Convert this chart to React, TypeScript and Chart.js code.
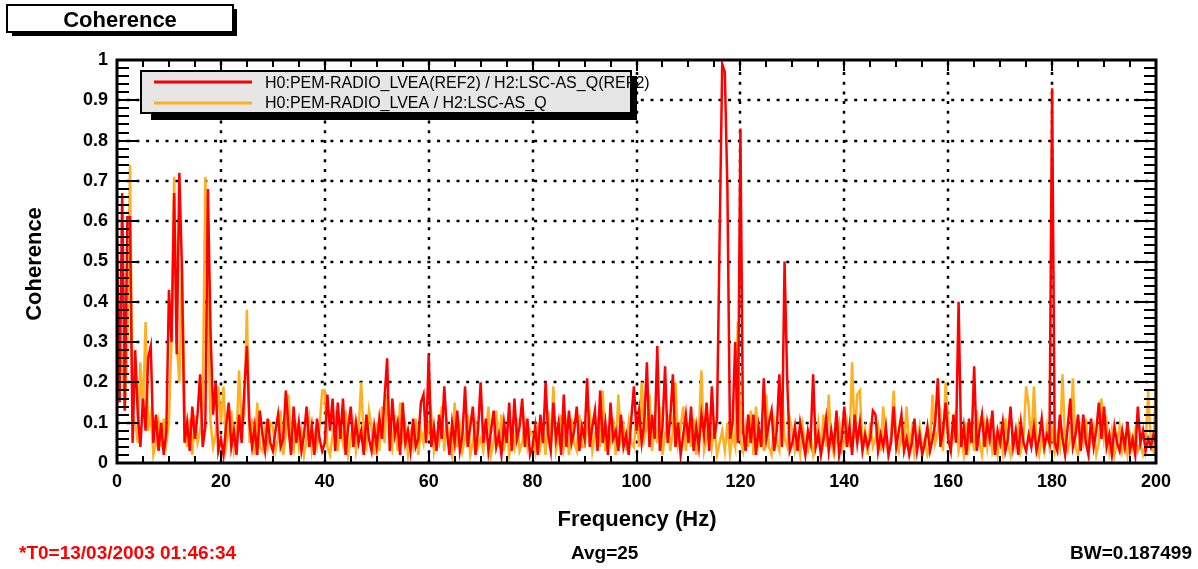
import React, { useEffect, useRef } from "react";
import { Chart, registerables } from "chart.js";

Chart.register(...registerables);

const FONT = '"Liberation Sans", Arial, Helvetica, sans-serif';

// Frequency bins (Hz)
const FREQ_START = 0;
const FREQ_STEP = 0.5;
const X_MIN = 0;
const X_MAX = 200;
const X_MAJOR_STEP = 20;
const X_MINOR_STEP = 5;
const Y_MIN = 0;
const Y_MAX = 1;
const Y_MAJOR_STEP = 0.1;
const Y_MINOR_STEP = 0.02;
const Y_TICK_LABELS = ["0", "0.1", "0.2", "0.3", "0.4", "0.5", "0.6", "0.7", "0.8", "0.9", "1"];

const RED_LABEL = "H0:PEM-RADIO_LVEA(REF2) / H2:LSC-AS_Q(REF2)";
const ORANGE_LABEL = "H0:PEM-RADIO_LVEA / H2:LSC-AS_Q";
const RED = "#ff0000";
const ORANGE = "#ffb020";

// Coherence, reference trace (REF2), one value per 0.5 Hz bin, 0..200 Hz
const COH_REF2 = [
  0.55, 0.15, 0.67, 0.13, 0.61, 0.61, 0.05, 0.28, 0.12, 0.04, 0.16, 0.08, 0.26, 0.29, 0.05, 0.12, 0.03, 0.10, 0.02, 0.08,
  0.43, 0.30, 0.67, 0.27, 0.72, 0.48, 0.05, 0.10, 0.03, 0.14, 0.06, 0.12, 0.22, 0.04, 0.09, 0.68, 0.33, 0.12, 0.20, 0.03,
  0.06, 0.02, 0.09, 0.15, 0.04, 0.08, 0.02, 0.12, 0.05, 0.18, 0.29, 0.10, 0.04, 0.09, 0.02, 0.13, 0.07, 0.03, 0.11, 0.05,
  0.03, 0.08, 0.12, 0.04, 0.06, 0.18, 0.09, 0.02, 0.14, 0.05, 0.10, 0.03, 0.07, 0.14, 0.04, 0.09, 0.02, 0.11, 0.06, 0.03,
  0.05, 0.17, 0.08, 0.16, 0.03, 0.15, 0.06, 0.16, 0.02, 0.09, 0.14, 0.04, 0.10, 0.05, 0.08, 0.02, 0.12, 0.06, 0.03, 0.09,
  0.04, 0.11, 0.06, 0.16, 0.26, 0.03, 0.16, 0.07, 0.10, 0.02, 0.15, 0.05, 0.08, 0.03, 0.11, 0.04, 0.06, 0.15, 0.17, 0.05,
  0.27, 0.04, 0.09, 0.03, 0.12, 0.06, 0.19, 0.08, 0.02, 0.10, 0.05, 0.13, 0.03, 0.07, 0.19, 0.04, 0.09, 0.14, 0.02, 0.08,
  0.20, 0.05, 0.11, 0.03, 0.08, 0.13, 0.04, 0.07, 0.02, 0.10, 0.05, 0.15, 0.03, 0.16, 0.06, 0.09, 0.16, 0.04, 0.11, 0.02,
  0.04, 0.09, 0.02, 0.12, 0.05, 0.20, 0.07, 0.03, 0.15, 0.06, 0.10, 0.02, 0.17, 0.04, 0.13, 0.05, 0.08, 0.14, 0.03, 0.09,
  0.06, 0.21, 0.04, 0.09, 0.13, 0.03, 0.18, 0.05, 0.10, 0.02, 0.15, 0.06, 0.08, 0.03, 0.12, 0.04, 0.07, 0.02, 0.11, 0.19,
  0.08, 0.13, 0.05, 0.10, 0.25, 0.04, 0.12, 0.06, 0.29, 0.03, 0.09, 0.24, 0.05, 0.11, 0.22, 0.04, 0.10, 0.02, 0.07, 0.12,
  0.05, 0.14, 0.03, 0.09, 0.04, 0.12, 0.07, 0.15, 0.03, 0.19, 0.06, 0.11, 0.56, 0.99, 0.97, 0.68, 0.06, 0.10, 0.30, 0.05,
  0.83, 0.08, 0.03, 0.12, 0.05, 0.12, 0.02, 0.09, 0.04, 0.21, 0.06, 0.10, 0.13, 0.03, 0.08, 0.22, 0.04, 0.50, 0.21, 0.03,
  0.05, 0.09, 0.03, 0.10, 0.06, 0.02, 0.08, 0.05, 0.22, 0.04, 0.07, 0.02, 0.06, 0.11, 0.03, 0.08, 0.04, 0.13, 0.02, 0.06,
  0.14, 0.04, 0.09, 0.02, 0.12, 0.05, 0.10, 0.03, 0.07, 0.04, 0.06, 0.13, 0.12, 0.03, 0.07, 0.04, 0.09, 0.02, 0.05, 0.14,
  0.04, 0.08, 0.12, 0.03, 0.06, 0.02, 0.05, 0.11, 0.03, 0.07, 0.02, 0.05, 0.09, 0.03, 0.06, 0.10, 0.21, 0.04, 0.08, 0.15,
  0.06, 0.03, 0.12, 0.05, 0.40, 0.04, 0.09, 0.02, 0.11, 0.05, 0.24, 0.03, 0.08, 0.12, 0.04, 0.10, 0.06, 0.13, 0.02, 0.08,
  0.05, 0.10, 0.03, 0.06, 0.14, 0.04, 0.08, 0.02, 0.10, 0.05, 0.03, 0.07, 0.04, 0.09, 0.03, 0.06, 0.11, 0.04, 0.07, 0.05,
  0.93, 0.05, 0.03, 0.12, 0.06, 0.02, 0.09, 0.16, 0.04, 0.07, 0.12, 0.03, 0.12, 0.05, 0.02, 0.11, 0.04, 0.08, 0.15, 0.06,
  0.14, 0.04, 0.07, 0.02, 0.09, 0.05, 0.03, 0.08, 0.04, 0.10, 0.03, 0.06, 0.02, 0.14, 0.05, 0.08, 0.03, 0.06, 0.04, 0.07,
  0.05,
];

// Coherence, current trace, one value per 0.5 Hz bin, 0..200 Hz
const COH_NOW = [
  0.45, 0.20, 0.28, 0.13, 0.30, 0.74, 0.12, 0.10, 0.05, 0.25, 0.12, 0.35, 0.08, 0.12, 0.02, 0.05, 0.10, 0.04, 0.11, 0.05,
  0.10, 0.31, 0.71, 0.30, 0.20, 0.49, 0.15, 0.04, 0.11, 0.02, 0.12, 0.05, 0.08, 0.14, 0.71, 0.40, 0.10, 0.04, 0.07, 0.19,
  0.10, 0.19, 0.04, 0.08, 0.13, 0.03, 0.06, 0.23, 0.09, 0.12, 0.38, 0.05, 0.11, 0.02, 0.15, 0.04, 0.03, 0.08, 0.04, 0.10,
  0.09, 0.03, 0.06, 0.13, 0.02, 0.07, 0.17, 0.05, 0.03, 0.10, 0.04, 0.08, 0.02, 0.06, 0.11, 0.03, 0.07, 0.04, 0.09, 0.18,
  0.18, 0.04, 0.02, 0.07, 0.11, 0.03, 0.09, 0.05, 0.13, 0.02, 0.06, 0.10, 0.03, 0.08, 0.20, 0.06, 0.04, 0.13, 0.09, 0.02,
  0.10, 0.03, 0.14, 0.05, 0.17, 0.08, 0.04, 0.12, 0.03, 0.15, 0.06, 0.09, 0.02, 0.07, 0.04, 0.11, 0.02, 0.08, 0.05, 0.12,
  0.08, 0.12, 0.03, 0.07, 0.05, 0.14, 0.03, 0.10, 0.06, 0.02, 0.15, 0.04, 0.09, 0.03, 0.06, 0.12, 0.02, 0.05, 0.10, 0.04,
  0.06, 0.03, 0.08, 0.14, 0.02, 0.05, 0.13, 0.04, 0.12, 0.03, 0.09, 0.02, 0.07, 0.04, 0.11, 0.03, 0.05, 0.10, 0.04, 0.08,
  0.07, 0.03, 0.10, 0.04, 0.08, 0.02, 0.13, 0.05, 0.19, 0.03, 0.06, 0.12, 0.04, 0.09, 0.02, 0.11, 0.05, 0.03, 0.12, 0.04,
  0.04, 0.09, 0.12, 0.03, 0.07, 0.10, 0.04, 0.18, 0.03, 0.08, 0.05, 0.11, 0.02, 0.17, 0.06, 0.09, 0.03, 0.10, 0.05, 0.04,
  0.12, 0.04, 0.20, 0.06, 0.09, 0.17, 0.03, 0.10, 0.05, 0.14, 0.02, 0.07, 0.12, 0.03, 0.08, 0.20, 0.05, 0.09, 0.14, 0.03,
  0.10, 0.04, 0.11, 0.02, 0.08, 0.23, 0.03, 0.06, 0.12, 0.04, 0.09, 0.02, 0.05, 0.08, 0.03, 0.10, 0.02, 0.07, 0.04, 0.35,
  0.06, 0.03, 0.09, 0.04, 0.13, 0.02, 0.14, 0.05, 0.08, 0.03, 0.17, 0.04, 0.02, 0.10, 0.05, 0.03, 0.18, 0.06, 0.04, 0.11,
  0.08, 0.03, 0.06, 0.02, 0.09, 0.04, 0.03, 0.07, 0.02, 0.05, 0.10, 0.03, 0.12, 0.04, 0.17, 0.05, 0.02, 0.07, 0.10, 0.03,
  0.05, 0.10, 0.04, 0.25, 0.06, 0.17, 0.18, 0.03, 0.08, 0.02, 0.10, 0.04, 0.06, 0.09, 0.03, 0.14, 0.05, 0.02, 0.07, 0.18,
  0.06, 0.03, 0.07, 0.04, 0.14, 0.03, 0.08, 0.02, 0.05, 0.09, 0.03, 0.06, 0.02, 0.04, 0.17, 0.05, 0.08, 0.12, 0.03, 0.20,
  0.10, 0.04, 0.07, 0.13, 0.03, 0.06, 0.02, 0.10, 0.04, 0.08, 0.03, 0.13, 0.05, 0.02, 0.09, 0.04, 0.11, 0.03, 0.06, 0.02,
  0.08, 0.03, 0.11, 0.05, 0.02, 0.07, 0.04, 0.09, 0.03, 0.06, 0.19, 0.14, 0.04, 0.19, 0.05, 0.02, 0.06, 0.03, 0.09, 0.04,
  0.08, 0.03, 0.07, 0.04, 0.22, 0.05, 0.03, 0.06, 0.21, 0.04, 0.02, 0.08, 0.05, 0.11, 0.03, 0.06, 0.09, 0.02, 0.05, 0.16,
  0.06, 0.10, 0.03, 0.08, 0.02, 0.05, 0.09, 0.03, 0.06, 0.02, 0.07, 0.04, 0.08, 0.03, 0.05, 0.02, 0.04, 0.18, 0.05, 0.03,
  0.21,
];

const PAGE_TITLE = "Coherence";
const X_TITLE = "Frequency (Hz)";
const Y_TITLE = "Coherence";
const FOOT_T0 = "*T0=13/03/2003 01:46:34";
const FOOT_AVG = "Avg=25";
const FOOT_BW = "BW=0.187499";

const rootPlugin = {
  id: "rootDecor",
  beforeDatasetsDraw(chart: any) {
    const { ctx, chartArea: a, scales } = chart;
    const x = scales.x;
    const y = scales.y;
    ctx.save();
    ctx.strokeStyle = "#000";
    ctx.lineWidth = 2.5;
    ctx.setLineDash([3, 6.7]);
    for (let v = X_MIN + X_MAJOR_STEP; v < X_MAX - 1e-9; v += X_MAJOR_STEP) {
      const px = Math.round(x.getPixelForValue(v));
      ctx.beginPath();
      ctx.moveTo(px, a.bottom);
      ctx.lineTo(px, a.top);
      ctx.stroke();
    }
    for (let i = 1; i < Math.round((Y_MAX - Y_MIN) / Y_MAJOR_STEP); i++) {
      const py = Math.round(y.getPixelForValue(Y_MIN + i * Y_MAJOR_STEP));
      ctx.beginPath();
      ctx.moveTo(a.left, py);
      ctx.lineTo(a.right, py);
      ctx.stroke();
    }
    ctx.restore();
  },
  afterDatasetsDraw(chart: any) {
    const { ctx, chartArea: a, scales } = chart;
    const x = scales.x;
    const y = scales.y;
    ctx.save();
    ctx.strokeStyle = "#000";
    ctx.lineWidth = 2;
    ctx.setLineDash([]);
    const nY = Math.round((Y_MAX - Y_MIN) / Y_MINOR_STEP);
    const perY = Math.round(Y_MAJOR_STEP / Y_MINOR_STEP);
    for (let i = 0; i <= nY; i++) {
      const py = Math.round(y.getPixelForValue(Y_MIN + i * Y_MINOR_STEP));
      const L = i % perY === 0 ? 22 : 12;
      ctx.beginPath();
      ctx.moveTo(a.left, py);
      ctx.lineTo(a.left + L, py);
      ctx.moveTo(a.right, py);
      ctx.lineTo(a.right - L, py);
      ctx.stroke();
    }
    const nX = Math.round((X_MAX - X_MIN) / X_MINOR_STEP);
    const perX = Math.round(X_MAJOR_STEP / X_MINOR_STEP);
    for (let i = 0; i <= nX; i++) {
      const px = Math.round(x.getPixelForValue(X_MIN + i * X_MINOR_STEP));
      const L = i % perX === 0 ? 11 : 7;
      ctx.beginPath();
      ctx.moveTo(px, a.top);
      ctx.lineTo(px, a.top + L);
      ctx.moveTo(px, a.bottom);
      ctx.lineTo(px, a.bottom - L);
      ctx.stroke();
    }
    ctx.lineWidth = 3;
    ctx.strokeRect(a.left, a.top, a.right - a.left, a.bottom - a.top);
    ctx.restore();
  },
  afterDraw(chart: any) {
    const { ctx } = chart;
    ctx.save();
    ctx.setLineDash([]);

    // Legend box with shadow
    ctx.fillStyle = "#000";
    ctx.fillRect(151, 76, 485, 44);
    ctx.fillStyle = "#e6e6e6";
    ctx.fillRect(141, 71, 490, 42);
    ctx.strokeStyle = "#000";
    ctx.lineWidth = 2;
    ctx.strokeRect(141, 71, 490, 42);
    ctx.lineWidth = 3;
    ctx.strokeStyle = RED;
    ctx.beginPath();
    ctx.moveTo(154, 82);
    ctx.lineTo(252, 82);
    ctx.stroke();
    ctx.strokeStyle = ORANGE;
    ctx.beginPath();
    ctx.moveTo(154, 103);
    ctx.lineTo(252, 103);
    ctx.stroke();
    ctx.fillStyle = "#000";
    ctx.font = `16px ${FONT}`;
    ctx.textAlign = "left";
    ctx.textBaseline = "alphabetic";
    ctx.fillText(RED_LABEL, 265, 88);
    ctx.fillText(ORANGE_LABEL, 265, 108);
    // right border + shadow drawn over overflowing text
    ctx.fillRect(630, 71, 2, 43);
    ctx.fillRect(632, 76, 5, 44);

    // Title box
    ctx.fillStyle = "#000";
    ctx.fillRect(12, 9, 225, 27);
    ctx.fillStyle = "#fff";
    ctx.fillRect(7, 5, 226, 27);
    ctx.strokeStyle = "#000";
    ctx.lineWidth = 2;
    ctx.strokeRect(7, 5, 226, 27);
    ctx.fillStyle = "#000";
    ctx.font = `bold 22px ${FONT}`;
    ctx.textAlign = "center";
    ctx.fillText(PAGE_TITLE, 120, 27);

    // Axis titles
    ctx.fillText(X_TITLE, 637, 526);
    ctx.save();
    ctx.translate(41, 264);
    ctx.rotate(-Math.PI / 2);
    ctx.fillText(Y_TITLE, 0, 0);
    ctx.restore();

    // Footer
    ctx.font = `bold 19px ${FONT}`;
    ctx.textAlign = "left";
    ctx.fillStyle = "#ff0000";
    ctx.fillText(FOOT_T0, 19, 559);
    ctx.fillStyle = "#000";
    ctx.fillText(FOOT_AVG, 571, 559);
    ctx.textAlign = "right";
    ctx.fillText(FOOT_BW, 1192, 559);
    ctx.restore();
  },
};

export default function App() {
  const ref = useRef<HTMLCanvasElement>(null);
  useEffect(() => {
    const canvas = ref.current;
    if (!canvas) return;
    const toPoints = (vals: number[]) => vals.map((v, i) => ({ x: FREQ_START + i * FREQ_STEP, y: v }));
    const tickFont = { family: FONT, size: 18, weight: "bold" as const };
    const chart = new Chart(canvas, {
      type: "line",
      data: {
        datasets: [
          {
            label: RED_LABEL,
            data: toPoints(COH_REF2),
            borderColor: RED,
            backgroundColor: RED,
            borderWidth: 2.5,
            pointRadius: 0,
            tension: 0,
            fill: false,
          },
          {
            label: ORANGE_LABEL,
            data: toPoints(COH_NOW),
            borderColor: ORANGE,
            backgroundColor: ORANGE,
            borderWidth: 2.5,
            pointRadius: 0,
            tension: 0,
            fill: false,
          },
        ],
      },
      options: {
        responsive: false,
        animation: false,
        devicePixelRatio: 1,
        events: [],
        layout: { padding: { left: 0, top: 60, right: 42, bottom: 76 } },
        plugins: {
          legend: { display: false },
          tooltip: { enabled: false },
          title: { display: false },
        },
        scales: {
          x: {
            type: "linear",
            min: X_MIN,
            max: X_MAX,
            grid: { display: false, drawTicks: false },
            border: { display: false },
            ticks: {
              stepSize: X_MAJOR_STEP,
              padding: 8,
              color: "#000",
              font: tickFont,
              maxRotation: 0,
              autoSkip: false,
            },
            afterFit: (s: any) => {
              s.height = 30;
            },
          },
          y: {
            type: "linear",
            min: Y_MIN,
            max: Y_MAX,
            grid: { display: false, drawTicks: false },
            border: { display: false },
            ticks: {
              stepSize: Y_MAJOR_STEP,
              padding: 9,
              color: "#000",
              font: tickFont,
              autoSkip: false,
              callback: (v: any) => Y_TICK_LABELS[Math.round(Number(v) / Y_MAJOR_STEP)],
            },
            afterFit: (s: any) => {
              s.width = 117;
            },
          },
        },
      },
      plugins: [rootPlugin],
    });
    return () => chart.destroy();
  }, []);
  return (
    <div style={{ position: "fixed", left: 0, top: 0, width: 1198, height: 569, background: "#fff" }}>
      <canvas ref={ref} width={1198} height={569} style={{ display: "block", width: 1198, height: 569 }} />
    </div>
  );
}
